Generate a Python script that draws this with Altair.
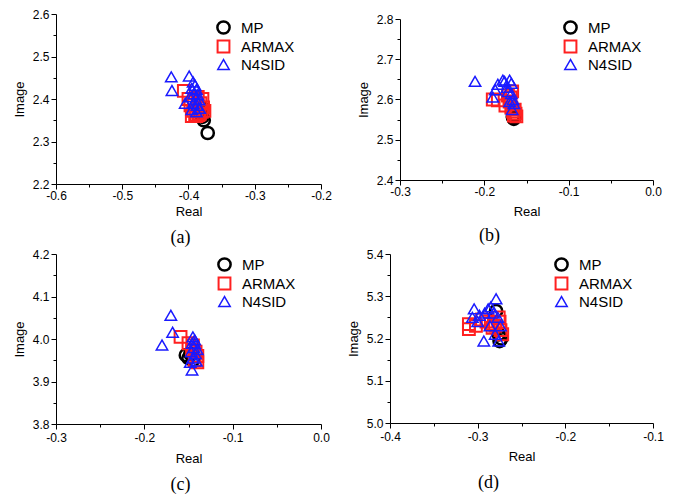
import altair as alt
import pandas as pd

methods = ["MP", "ARMAX", "N4SID"]

# ---- Panel (a) ----
a_mp_x = [-0.371, -0.377, -0.379, -0.381, -0.383, -0.380]
a_mp_y = [2.320, 2.350, 2.358, 2.365, 2.372, 2.380]
a_ar_x = [-0.407, -0.400, -0.397, -0.393, -0.390, -0.388, -0.385, -0.383, -0.380, -0.378, -0.395, -0.392, -0.386, -0.382, -0.379, -0.376]
a_ar_y = [2.419, 2.400, 2.385, 2.372, 2.362, 2.360, 2.362, 2.365, 2.370, 2.380, 2.360, 2.395, 2.405, 2.390, 2.400, 2.372]
a_n4_x = [-0.426, -0.425, -0.399, -0.393, -0.390, -0.395, -0.388, -0.392, -0.386, -0.398, -0.389, -0.384, -0.393, -0.387, -0.405, -0.383, -0.388, -0.395]
a_n4_y = [2.452, 2.420, 2.454, 2.440, 2.432, 2.425, 2.422, 2.412, 2.410, 2.405, 2.400, 2.398, 2.390, 2.385, 2.390, 2.378, 2.370, 2.375]

# ---- Panel (b) ----
b_mp_x = [-0.166, -0.165, -0.164, -0.166]
b_mp_y = [2.556, 2.552, 2.562, 2.558]
b_ar_x = [-0.190, -0.184, -0.175, -0.172, -0.170, -0.168, -0.166, -0.165, -0.163, -0.167, -0.169, -0.164, -0.162]
b_ar_y = [2.600, 2.598, 2.585, 2.610, 2.595, 2.580, 2.570, 2.560, 2.565, 2.620, 2.605, 2.575, 2.558]
b_n4_x = [-0.211, -0.190, -0.187, -0.184, -0.178, -0.170, -0.168, -0.172, -0.168, -0.166, -0.165, -0.170, -0.167, -0.173, -0.176]
b_n4_y = [2.645, 2.606, 2.624, 2.638, 2.648, 2.648, 2.640, 2.620, 2.615, 2.600, 2.590, 2.595, 2.575, 2.630, 2.645]

# ---- Panel (c) ----
c_mp_x = [-0.153, -0.150, -0.145, -0.148]
c_mp_y = [3.962, 3.955, 3.950, 3.965]
c_ar_x = [-0.159, -0.150, -0.145, -0.142, -0.140, -0.143, -0.140, -0.146]
c_ar_y = [4.005, 3.990, 3.985, 3.970, 3.960, 3.950, 3.945, 3.975]
c_n4_x = [-0.170, -0.168, -0.180, -0.146, -0.145, -0.143, -0.146, -0.144, -0.147, -0.142, -0.145, -0.141, -0.148, -0.143, -0.140]
c_n4_y = [4.056, 4.016, 3.986, 3.927, 4.005, 3.998, 3.990, 3.980, 3.970, 3.965, 3.955, 3.948, 3.945, 3.990, 3.975]

# ---- Panel (d) ----
d_mp_x = [-0.275, -0.273, -0.276, -0.279]
d_mp_y = [5.194, 5.200, 5.210, 5.265]
d_ar_x = [-0.310, -0.310, -0.302, -0.290, -0.285, -0.280, -0.276, -0.274, -0.272, -0.275, -0.283, -0.295]
d_ar_y = [5.234, 5.222, 5.230, 5.240, 5.235, 5.230, 5.250, 5.220, 5.210, 5.240, 5.225, 5.245]
d_n4_x = [-0.304, -0.306, -0.300, -0.292, -0.288, -0.285, -0.279, -0.282, -0.277, -0.293, -0.276, -0.280, -0.286, -0.274, -0.298]
d_n4_y = [5.270, 5.250, 5.240, 5.260, 5.270, 5.275, 5.294, 5.260, 5.250, 5.194, 5.194, 5.210, 5.230, 5.230, 5.255]


def frame(mp_x, mp_y, ar_x, ar_y, n4_x, n4_y):
    rows = []
    for name, xs, ys in [("MP", mp_x, mp_y), ("ARMAX", ar_x, ar_y), ("N4SID", n4_x, n4_y)]:
        for x, y in zip(xs, ys):
            rows.append({"method": name, "Real": x, "Image": y})
    return pd.DataFrame(rows)


MINOR = "abs(datum.value*10 - round(datum.value*10)) > 0.01"
LABEL = MINOR + " ? '' : replace(format(datum.value, '.1f'), '\u2212', '-')"


def ticks(lo, hi):
    n = int(round((hi - lo) / 0.05))
    return [round(lo + i * 0.05, 2) for i in range(n + 1)]


def axis(title, lo, hi, label_pad, title_pad):
    return alt.Axis(
        title=title,
        values=ticks(lo, hi),
        labelExpr=LABEL,
        tickSize={"condition": {"test": MINOR, "value": 3}, "value": 5},
        grid=False,
        domainColor="black",
        tickColor="black",
        labelColor="black",
        titleColor="black",
        labelFont="Liberation Sans",
        titleFont="Liberation Sans",
        labelFontSize=12,
        titleFontSize=13,
        titleFontWeight="normal",
        labelPadding=label_pad,
        titlePadding=title_pad,
        labelOverlap=False,
        labelFlush=False,
    )


def panel(df, xlo, xhi, ylo, yhi, caption, w, h, cap_dx, cap_off, xlp, xtp, lx, ly):
    leg = alt.Legend(title=None, orient="none", legendX=lx, legendY=ly)
    return alt.Chart(df).mark_point(filled=False, opacity=1).encode(
        x=alt.X("Real:Q", scale=alt.Scale(domain=[xlo, xhi], nice=False, zero=False), axis=axis("Real", xlo, xhi, xlp, xtp)),
        y=alt.Y("Image:Q", scale=alt.Scale(domain=[ylo, yhi], nice=False, zero=False), axis=axis("Image", ylo, yhi, 2, 6)),
        color=alt.Color("method:N", scale=alt.Scale(domain=methods, range=["#000000", "#ff2020", "#1a1aff"]), legend=leg),
        shape=alt.Shape("method:N", scale=alt.Scale(domain=methods, range=["circle", "square", "triangle-up"]), legend=leg),
        size=alt.Size("method:N", scale=alt.Scale(domain=methods, range=[150, 130, 200]), legend=leg),
        strokeWidth=alt.StrokeWidth("method:N", scale=alt.Scale(domain=methods, range=[2.5, 1.5, 1.5]), legend=leg),
        order=alt.Order("o:Q"),
    ).transform_calculate(
        o="datum.method == 'MP' ? 0 : (datum.method == 'ARMAX' ? 1 : 2)"
    ).properties(
        width=w,
        height=h,
        title=alt.TitleParams(
            text=caption, orient="bottom", font="Liberation Serif", fontSize=18,
            fontWeight="normal", anchor="middle", frame="group", dx=cap_dx, offset=cap_off, color="black",
        ),
    )


RES = dict(color="independent", shape="independent", size="independent", strokeWidth="independent")

pa = panel(frame(a_mp_x, a_mp_y, a_ar_x, a_ar_y, a_n4_x, a_n4_y), -0.6, -0.2, 2.2, 2.6, "(a)", 265, 170, -8, 11, 1, 4, 160, 6)
pb = panel(frame(b_mp_x, b_mp_y, b_ar_x, b_ar_y, b_n4_x, b_n4_y), -0.3, 0.0, 2.4, 2.8, "(b)", 253, 161, -37, 9, 1, 8, 163, 1)
pc = panel(frame(c_mp_x, c_mp_y, c_ar_x, c_ar_y, c_n4_x, c_n4_y), -0.3, 0.0, 3.8, 4.2, "(c)", 265, 170, -8, 11, 3, 9, 161, 3)
pd_ = panel(frame(d_mp_x, d_mp_y, d_ar_x, d_ar_y, d_n4_x, d_n4_y), -0.4, -0.1, 5.0, 5.4, "(d)", 263, 169, -33, 11, 3, 8, 164, 3)

# invisible spacer that pushes panel (b) a few pixels down, as in the reference
spacer = alt.Chart(pd.DataFrame({"v": [0]})).mark_point(size=0, opacity=0).encode(
    x=alt.X("v:Q", axis=None), y=alt.Y("v:Q", axis=None)
).properties(width=1, height=1)
pb_col = alt.vconcat(spacer, pb, spacing=-2).resolve_legend(**RES).resolve_scale(**RES)

row1 = alt.hconcat(pa, pb_col, spacing=25).resolve_legend(**RES).resolve_scale(**RES)
row2 = alt.hconcat(pc, pd_, spacing=17).resolve_legend(**RES).resolve_scale(**RES)

chart = alt.vconcat(row1, row2, spacing=1).resolve_legend(**RES).resolve_scale(**RES).configure_view(
    stroke=None
).configure_legend(
    labelFontSize=15, labelFont="Liberation Sans", labelColor="black", rowPadding=-5,
    labelOffset=10,
).properties(
    padding={"left": 5, "top": 0, "right": 0, "bottom": 0}, background="white"
)

chart.save("out.html", embed_options={"renderer": "svg", "actions": False})
